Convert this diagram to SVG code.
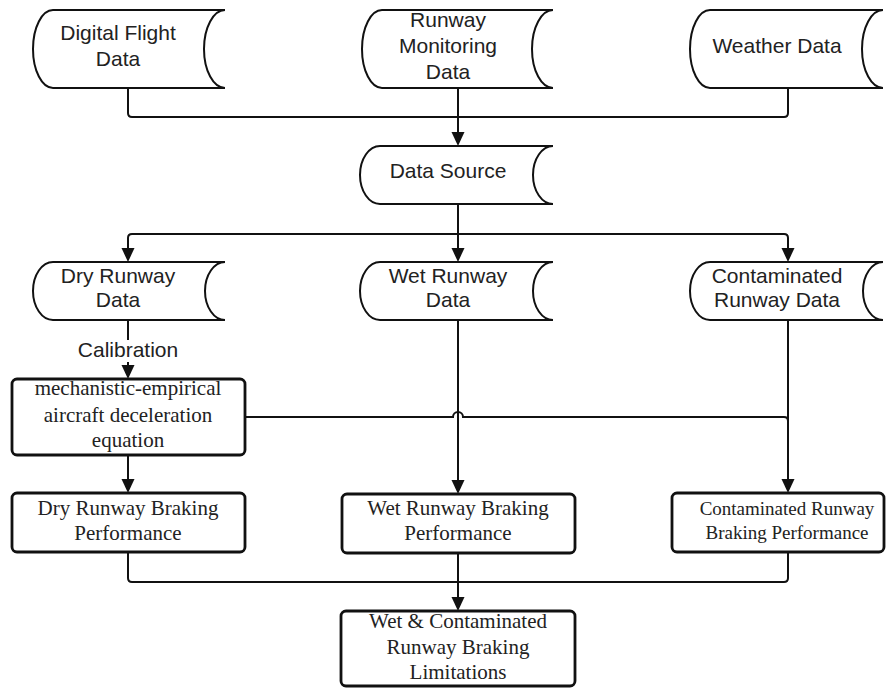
<svg xmlns="http://www.w3.org/2000/svg" width="894" height="688" viewBox="0 0 894 688">
  <defs>
    <style>
      .store { fill: #fff; stroke: #111; stroke-width: 2; }
      .proc { fill: #fff; stroke: #111; stroke-width: 2.8; }
      .wire { fill: none; stroke: #111; stroke-width: 2; }
      .head { fill: #111; }
      .sans { font-family: "Liberation Sans", Arial, sans-serif; font-size: 21px; fill: #222; text-anchor: middle; }
      .serif { font-family: "Liberation Serif", "Times New Roman", serif; font-size: 21px; fill: #222; text-anchor: middle; }
      .small { font-size: 19px; }
    </style>
  </defs>

  <rect width="894" height="688" fill="#fff"/>

  <!-- connectors -->
  <g id="connectors">
    <!-- sources merge into Data Source -->
    <path class="wire" d="M128,88 V113 Q128,117 132,117 H784 Q788,117 788,113 V88"/>
    <path class="wire" d="M458,88 V134"/>
    <polygon class="head" points="458,146 451.5,132 464.5,132"/>

    <!-- Data Source splits into three runway data stores -->
    <path class="wire" d="M458,204 V250"/>
    <path class="wire" d="M128,250 V238 Q128,234 132,234 H784 Q788,234 788,238 V250"/>
    <polygon class="head" points="128,262 121.5,248 134.5,248"/>
    <polygon class="head" points="458,262 451.5,248 464.5,248"/>
    <polygon class="head" points="788,262 781.5,248 794.5,248"/>

    <!-- dry runway data calibrates the deceleration equation -->
    <path class="wire" d="M128,320 V367"/>
    <polygon class="head" points="128,379 121.5,365 134.5,365"/>

    <!-- equation to dry braking -->
    <path class="wire" d="M128,455 V481"/>
    <polygon class="head" points="128,493 121.5,479 134.5,479"/>

    <!-- wet runway data to wet braking -->
    <path class="wire" d="M458,320 V482"/>
    <polygon class="head" points="458,494 451.5,480 464.5,480"/>

    <!-- equation feeding contaminated braking, hopping over the wet line -->
    <path class="wire" d="M245,417 H453 A5,5 0 0 1 463,417 H784 Q788,417 788,421"/>
    <path class="wire" d="M788,320 V481"/>
    <polygon class="head" points="788,493 781.5,479 794.5,479"/>

    <!-- braking results merge into limitations -->
    <path class="wire" d="M128,552 V578 Q128,582 132,582 H784 Q788,582 788,578 V552"/>
    <path class="wire" d="M458,553 V599"/>
    <polygon class="head" points="458,611 451.5,597 464.5,597"/>
  </g>

  <!-- source data stores -->
  <g id="digital-flight-data">
    <path class="store" d="M53,10 H225 A21,39 0 0 0 225,88 H53 A20,39 0 0 1 53,10 Z"/>
    <text class="sans" x="118" y="40">Digital Flight</text>
    <text class="sans" x="118" y="66">Data</text>
  </g>
  <g id="runway-monitoring-data">
    <path class="store" d="M382,10 H553 A21,39 0 0 0 553,88 H382 A20,39 0 0 1 382,10 Z"/>
    <text class="sans" x="448" y="27">Runway</text>
    <text class="sans" x="448" y="53">Monitoring</text>
    <text class="sans" x="448" y="79">Data</text>
  </g>
  <g id="weather-data">
    <path class="store" d="M710,10 H883 A21,39 0 0 0 883,88 H710 A20,39 0 0 1 710,10 Z"/>
    <text class="sans" x="777" y="53">Weather Data</text>
  </g>

  <g id="data-source">
    <path class="store" d="M380,146 H553 A20,29 0 0 0 553,204 H380 A20,29 0 0 1 380,146 Z"/>
    <text class="sans" x="448" y="178">Data Source</text>
  </g>

  <!-- runway condition data stores -->
  <g id="dry-runway-data">
    <path class="store" d="M53,262 H225 A20,29 0 0 0 225,320 H53 A20,29 0 0 1 53,262 Z"/>
    <text class="sans" x="118" y="283">Dry Runway</text>
    <text class="sans" x="118" y="307">Data</text>
  </g>
  <g id="wet-runway-data">
    <path class="store" d="M380,262 H553 A20,29 0 0 0 553,320 H380 A20,29 0 0 1 380,262 Z"/>
    <text class="sans" x="448" y="283">Wet Runway</text>
    <text class="sans" x="448" y="307">Data</text>
  </g>
  <g id="contaminated-runway-data">
    <path class="store" d="M710,262 H883 A20,29 0 0 0 883,320 H710 A20,29 0 0 1 710,262 Z"/>
    <text class="sans" x="777" y="283">Contaminated</text>
    <text class="sans" x="777" y="307">Runway Data</text>
  </g>

  <g id="calibration-label">
    <rect x="76" y="340" width="104" height="22" fill="#fff"/>
    <text class="sans" x="128" y="357">Calibration</text>
  </g>

  <g id="deceleration-equation">
    <rect class="proc" x="12" y="379" width="233" height="76" rx="5"/>
    <text class="serif" x="128" y="395">mechanistic-empirical</text>
    <text class="serif" x="128" y="422">aircraft deceleration</text>
    <text class="serif" x="128" y="447">equation</text>
  </g>

  <!-- braking performance results -->
  <g id="dry-braking">
    <rect class="proc" x="12" y="493" width="233" height="59" rx="5"/>
    <text class="serif" x="128" y="515">Dry Runway Braking</text>
    <text class="serif" x="128" y="540">Performance</text>
  </g>
  <g id="wet-braking">
    <rect class="proc" x="342" y="494" width="233" height="59" rx="5"/>
    <text class="serif" x="458" y="515">Wet Runway Braking</text>
    <text class="serif" x="458" y="540">Performance</text>
  </g>
  <g id="contaminated-braking">
    <rect class="proc" x="672" y="493" width="212" height="59" rx="5"/>
    <text class="serif small" x="787" y="515">Contaminated Runway</text>
    <text class="serif small" x="787" y="539">Braking Performance</text>
  </g>

  <g id="braking-limitations">
    <rect class="proc" x="341" y="611" width="234" height="75" rx="5"/>
    <text class="serif" x="458" y="628">Wet &amp; Contaminated</text>
    <text class="serif" x="458" y="654">Runway Braking</text>
    <text class="serif" x="458" y="679">Limitations</text>
  </g>
</svg>
